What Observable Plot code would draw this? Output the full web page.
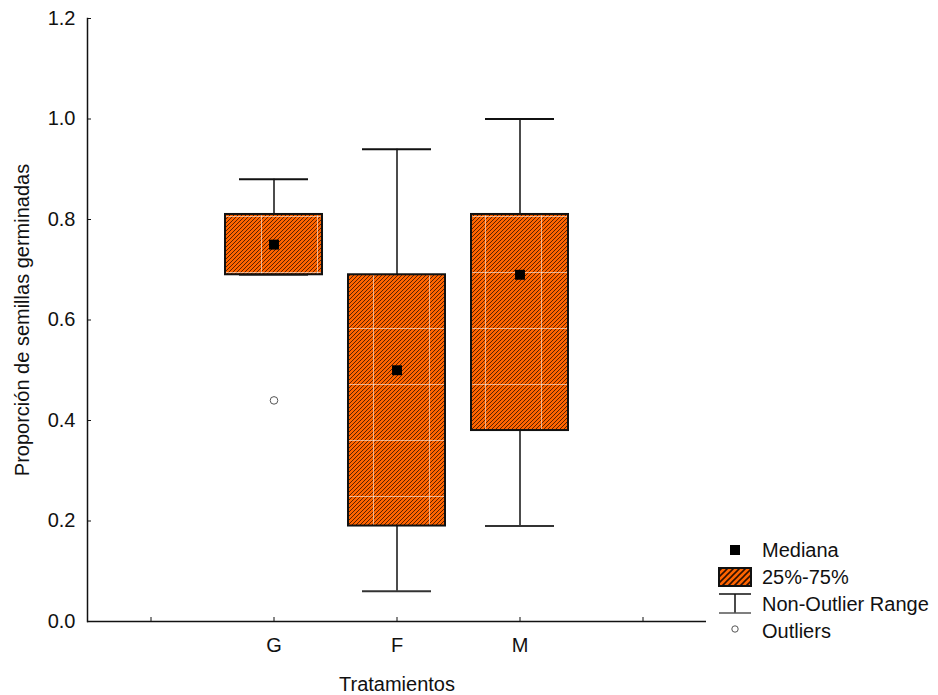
<!DOCTYPE html>
<html>
<head>
<meta charset="utf-8">
<script src="https://cdn.jsdelivr.net/npm/d3@7"></script>
<script src="https://cdn.jsdelivr.net/npm/@observablehq/plot@0.6"></script>
<style>
  html, body { margin: 0; padding: 0; background: #fff; }
  #chart { width: 938px; height: 695px; }
</style>
</head>
<body>
<div id="chart"></div>
<script>
// ---- data ----
const categories = ["G", "F", "M"];
const medians     = [0.75, 0.50, 0.69];
const q1          = [0.69, 0.19, 0.38];
const q3          = [0.81, 0.69, 0.81];
const whiskerLow  = [0.69, 0.06, 0.19];
const whiskerHigh = [0.88, 0.94, 1.00];
const outlierCats   = ["G"];
const outlierValues = [0.44];
const yTicks = [0, 0.2, 0.4, 0.6, 0.8, 1.0, 1.2];
const xDomain = ["_l", "G", "F", "M", "_r"];
const legendLabels = ["Mediana", "25%-75%", "Non-Outlier Range", "Outliers"];
const yTitle = "Proporción de semillas germinadas";
const xTitle = "Tratamientos";

const boxes = categories.map((c, i) => ({
  cat: c, med: medians[i], q1: q1[i], q3: q3[i], lo: whiskerLow[i], hi: whiskerHigh[i]
}));
const outliers = outlierCats.map((c, i) => ({cat: c, value: outlierValues[i]}));

const ink = "#111";
const FS = 20;

const chart = Plot.plot({
  width: 938,
  height: 695,
  marginLeft: 87,
  marginRight: 232,
  marginTop: 18,
  marginBottom: 74,
  style: {fontFamily: "Liberation Sans, Arial, sans-serif", fontSize: FS + "px", color: ink, background: "white"},
  x: {type: "band", domain: xDomain, padding: 0},
  y: {domain: [0, 1.2]},
  marks: [
    // whiskers
    Plot.ruleX(boxes, {x: "cat", y1: "q3", y2: "hi", stroke: ink, strokeWidth: 1.5}),
    Plot.ruleX(boxes, {x: "cat", y1: "lo", y2: "q1", stroke: ink, strokeWidth: 1.5}),
    Plot.tickY(boxes, {x: "cat", y: "hi", inset: 27, stroke: ink, strokeWidth: 2}),
    Plot.tickY(boxes, {x: "cat", y: "lo", inset: 27, stroke: "#333", strokeWidth: 2}),
    // boxes
    Plot.barY(boxes, {x: "cat", y1: "q1", y2: "q3", insetLeft: 13, insetRight: 13, fill: "url(#boxHatch)", stroke: "#111", strokeWidth: 2}),
    // medians
    Plot.dot(boxes, {x: "cat", y: "med", symbol: "square", r: 5.6, fill: "#000", stroke: "none"}),
    // outliers
    Plot.dot(outliers, {x: "cat", y: "value", r: 3.8, fill: "white", stroke: "#555", strokeWidth: 1}),
    // axes lines
    Plot.ruleY([0], {stroke: ink, strokeWidth: 1.5}),
    Plot.frame({anchor: "left", stroke: ink, strokeWidth: 1.5}),
    // y axis: inward ticks + labels
    Plot.axisY({ticks: yTicks, tickSize: 4, dx: 4, fill: "none", stroke: ink, label: null}),
    Plot.axisY({ticks: yTicks, tickSize: 0, tickPadding: 12, tickFormat: d3.format(".1f"), fill: ink,
                fontSize: FS, label: yTitle, labelAnchor: "center", labelArrow: "none", labelOffset: 73}),
    // x axis: inward ticks + labels
    Plot.axisX({tickSize: 4, dy: -4, fill: "none", stroke: ink, label: null}),
    Plot.axisX({tickSize: 0, tickPadding: 16, tickFormat: d => (d.startsWith("_") ? "" : d), fill: ink,
                fontSize: FS, label: xTitle, labelAnchor: "center", labelArrow: "none", labelOffset: 69})
  ]
});

// hatch patterns
const svg = d3.select(chart.tagName.toLowerCase() === "svg" ? chart : chart.querySelector("svg"));
const defs = svg.insert("defs", ":first-child");
function diagPattern(id, s, w) {
  const p = defs.append("pattern").attr("id", id).attr("patternUnits", "userSpaceOnUse")
    .attr("width", s).attr("height", s);
  p.append("rect").attr("width", s).attr("height", s).attr("fill", "#ff6400");
  p.append("path").attr("d", `M-1,1 L1,-1 M0,${s} L${s},0 M${s - 1},${s + 1} L${s + 1},${s - 1}`)
    .attr("stroke", "#301000").attr("stroke-width", w);
}
diagPattern("diagHatch", 4, 0.8);
diagPattern("legendHatch", 6, 1.6);
const hatch = defs.append("pattern").attr("id", "boxHatch").attr("patternUnits", "userSpaceOnUse")
  .attr("width", 56).attr("height", 56).attr("x", 37).attr("y", 48);
hatch.append("rect").attr("width", 56).attr("height", 56).attr("fill", "url(#diagHatch)");
hatch.append("path").attr("d", "M0,0.5H56 M0.5,0V56").attr("stroke", "white")
  .attr("stroke-opacity", 0.55).attr("stroke-width", 1);

// legend (drawn in the same SVG, to the right of the plot frame)
const lg = svg.append("g").attr("font-size", FS).attr("fill", ink).attr("text-anchor", "start");
const lx = 719, lw = 32, tx = 762;
const rows = [550, 577, 604, 631];
lg.append("rect").attr("x", lx + lw / 2 - 5).attr("y", rows[0] - 5).attr("width", 10).attr("height", 10).attr("fill", "#000");
lg.append("rect").attr("x", lx).attr("y", rows[1] - 9).attr("width", lw).attr("height", 18)
  .attr("fill", "url(#legendHatch)").attr("stroke", "#111").attr("stroke-width", 2);
lg.append("path").attr("d", `M${lx},${rows[2] - 10}H${lx + lw}M${lx + lw / 2},${rows[2] - 10}V${rows[2] + 9}`)
  .attr("stroke", ink).attr("stroke-width", 1.5).attr("fill", "none");
lg.append("path").attr("d", `M${lx},${rows[2] + 9}H${lx + lw}`).attr("stroke", "#555").attr("stroke-width", 1.5);
lg.append("circle").attr("cx", lx + lw / 2).attr("cy", rows[3] - 2).attr("r", 3.2)
  .attr("fill", "white").attr("stroke", "#555");
legendLabels.forEach((t, i) => {
  lg.append("text").attr("x", tx).attr("y", rows[i]).attr("dy", "0.35em").text(t);
});

document.getElementById("chart").appendChild(chart);
</script>
</body>
</html>
